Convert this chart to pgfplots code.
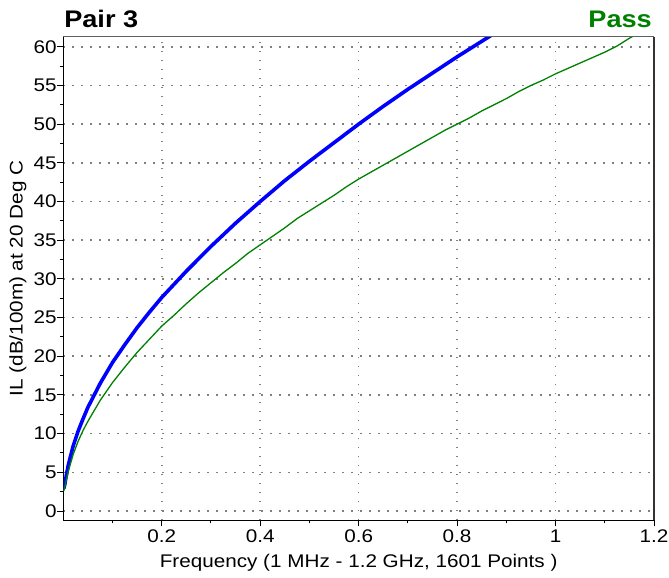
\documentclass[border=0pt]{standalone}
\usepackage{fontspec}
\setmainfont{Liberation Sans}[FakeStretch=1.13]
\usepackage{pgfplots}
\pgfplotsset{compat=1.18}
\usetikzlibrary{calc}
\definecolor{passgreen}{RGB}{0,128,0}
\definecolor{gridgray}{RGB}{128,128,128}

% Insertion loss, pair 3 (f in GHz, IL in dB/100m)
\pgfplotstableread{
f      il
0.001  2.9
0.003  3.4
0.005  4.2
0.01   5.9
0.02   8.4
0.03   10.3
0.04   11.9
0.05   13.4
0.075  16.5
0.1    19.2
0.125  21.5
0.15   23.7
0.175  25.7
0.2    27.6
0.25   31.0
0.3    34.2
0.35   37.2
0.4    40.0
0.45   42.7
0.5    45.2
0.55   47.6
0.6    50.0
0.65   52.3
0.7    54.5
0.75   56.6
0.8    58.7
0.85   60.7
0.9    62.7
}\limitdata

\pgfplotstableread{
f      il
0.001  2.6
0.003  3.1
0.005  3.7
0.01   5.1
0.02   7.3
0.03   9.0
0.04   10.4
0.05   11.6
0.075  14.3
0.1    16.6
0.125  18.6
0.15   20.5
0.175  22.2
0.2    23.9
0.225  25.3
0.25   26.8
0.275  28.2
0.3    29.5
0.325  30.8
0.35   32.0
0.375  33.3
0.4    34.4
0.425  35.5
0.45   36.6
0.475  37.8
0.5    38.8
0.525  39.8
0.55   40.8
0.575  41.9
0.6    42.9
0.625  43.8
0.65   44.7
0.675  45.6
0.7    46.5
0.725  47.4
0.75   48.3
0.775  49.2
0.8    50.0
0.825  50.8
0.85   51.7
0.875  52.5
0.9    53.3
0.925  54.2
0.95   55.0
0.975  55.7
1.0    56.5
1.025  57.2
1.05   57.9
1.075  58.6
1.1    59.3
1.125  60.1
1.15   61.1
1.175  62.0
1.2    62.9
}\measdata

\begin{document}
\begin{tikzpicture}
\begin{axis}[
  name=ax,
  scale only axis,
  width=590.7pt, height=483.6pt,
  xmin=0, xmax=1.2, ymin=-1.2, ymax=61.3,
  axis x line*=bottom, axis y line*=left,
  axis line style={black, line width=1.3pt},
  xtick={0.2,0.4,0.6,0.8,1,1.2},
  minor xtick={0.1,0.3,0.5,0.7,0.9,1.1},
  ytick={0,5,...,60},
  minor ytick={2.5,7.5,...,57.5},
  tick align=outside,
  major tick length=6pt, minor tick length=3pt,
  tick style={black, line width=1pt},
  grid=major,
  major grid style={gridgray, line width=1.6pt, dash pattern=on 1.6pt off 7.4pt},
  ticklabel style={font=\fontsize{18.3}{20}\selectfont},
  /pgf/number format/assume math mode=true,
  yticklabel style={inner sep=0.5pt},
  xticklabel style={inner sep=0pt, yshift=-3pt},
  label style={font=\fontsize{18.3}{20}\selectfont, inner sep=0pt},
  xlabel={Frequency (1 MHz - 1.2 GHz, 1601 Points )},
  xlabel style={at={(axis description cs:0.5,-0.0986)}, anchor=base},
  ylabel={IL (dB/100m) at 20 Deg C},
  ylabel style={at={(axis description cs:-0.0687,0.5)}, anchor=base},
]
\addplot[blue, line width=3.6pt, line join=round] table[x=f, y=il] {\limitdata};
\addplot[passgreen, line width=1.3pt, line join=round] table[x=f, y=il] {\measdata};
\end{axis}
\draw[line width=1.5pt, gray!75!black] (ax.north west) -- (ax.north east);
\draw[line width=1.5pt, black!80] (ax.north east) -- (ax.south east);
\node[anchor=base west, inner sep=0pt, font=\fontsize{24}{28}\selectfont\bfseries]
  at ($(ax.north west)+(0.8pt,9.4pt)$) {Pair 3};
\node[anchor=base east, inner sep=0pt, text=passgreen, font=\fontsize{24}{28}\selectfont\bfseries]
  at ($(ax.north east)+(-2pt,9.4pt)$) {Pass};
\pgfresetboundingbox
\path[use as bounding box] ($(ax.south west)+(-63.3pt,-57.7pt)$) rectangle ($(ax.north east)+(15pt,36.7pt)$);
\end{tikzpicture}
\end{document}
